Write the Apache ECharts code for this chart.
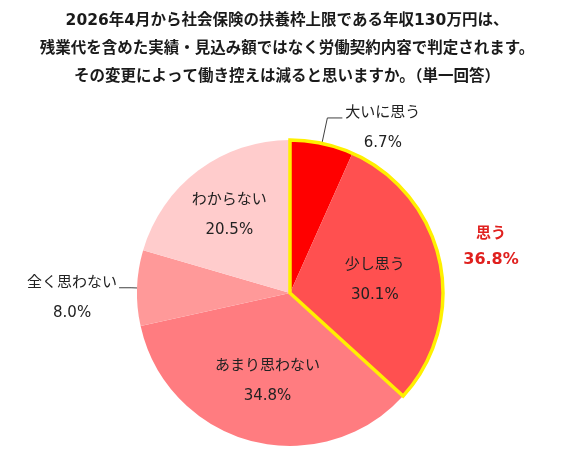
<!DOCTYPE html>
<html>
<head>
<meta charset="utf-8">
<script src="https://cdn.jsdelivr.net/npm/echarts@6/dist/echarts.min.js"></script>
<style>
  html, body { margin: 0; padding: 0; background: #fff; }
  #chart { width: 574px; height: 451px; }
</style>
</head>
<body>
<div id="chart"></div>
<script>
const titleLines = [
  '2026年4月から社会保険の扶養枠上限である年収130万円は、',
  '残業代を含めた実績・見込み額ではなく労働契約内容で判定されます。',
  'その変更によって働き控えは減ると思いますか。（単一回答）'
];
const categories = ['大いに思う', '少し思う', 'あまり思わない', '全く思わない', 'わからない'];
const values = [6.7, 30.1, 34.8, 8.0, 20.5];
const groupName = '思う';
const groupMembers = ['大いに思う', '少し思う'];
const outsideLabels = ['大いに思う', '全く思わない'];

const FONT = "'DejaVu Sans', 'Noto Sans CJK JP', sans-serif";
const colors = ['#FF0000', '#FF5050', '#FF7C80', '#FF9999', '#FFCCCC'];

// small nudges for the inside labels (Excel puts them a bit off the mid radius)
const labelNudge = {
  '少し思う': [7, 3],
  'あまり思わない': [-2, 11],
  'わからない': [-13, -14]
};

const groupTotal = categories.reduce((s, c, i) => groupMembers.includes(c) ? s + values[i] : s, 0);
const restTotal = values.reduce((s, v) => s + v, 0) - groupTotal;

const pieData = categories.map((name, i) => {
  const item = { name: name, value: values[i], itemStyle: { color: colors[i] } };
  if (outsideLabels.includes(name)) {
    item.label = { position: 'outside', padding: [20, 0, 0, 0], distanceToLabelLine: name === '大いに思う' ? 3 : 2 };
    item.labelLine = name === '大いに思う' ? { show: true, length: 26, length2: 15 } : { show: true, length: 6, length2: 12 };
  } else {
    item.label = { position: 'inside' };
    item.labelLine = { show: false };
  }
  return item;
});

const chart = echarts.init(document.getElementById('chart'));
chart.setOption({
  backgroundColor: '#ffffff',
  animation: false,
  title: [
    {
      text: titleLines.join('\n'),
      left: 'center',
      top: 2,
      textStyle: { fontFamily: FONT, fontSize: 15.5, fontWeight: 'bold', color: '#1a1a1a', lineHeight: 28 }
    },
    {
      text: '{a|' + groupName + '}\n{b|' + groupTotal.toFixed(1) + '%}',
      left: 486,
      top: 216,
      textAlign: 'center',
      textStyle: {
        rich: {
          a: { fontFamily: FONT, fontSize: 15, fontWeight: 'bold', color: '#E0201E', lineHeight: 26, align: 'center' },
          b: { fontFamily: FONT, fontSize: 16, fontWeight: 'bold', color: '#E0201E', lineHeight: 26, align: 'center' }
        }
      }
    }
  ],
  series: [
    {
      type: 'pie',
      center: [290, 293],
      radius: [0, 153],
      startAngle: 90,
      clockwise: true,
      avoidLabelOverlap: false,
      silent: true,
      itemStyle: { borderWidth: 0 },
      label: {
        show: true,
        formatter: p => '{n|' + p.name + '}\n{p|' + p.value.toFixed(1) + '%}',
        rich: {
          n: { fontFamily: FONT, fontSize: 15, color: '#222', lineHeight: 30, align: 'center' },
          p: { fontFamily: FONT, fontSize: 15, color: '#222', lineHeight: 30, align: 'center' }
        }
      },
      labelLine: { lineStyle: { color: '#404040', width: 1 }, smooth: false },
      labelLayout: params => {
        const d = labelNudge[categories[params.dataIndex]];
        return d ? { dx: d[0], dy: d[1] } : {};
      },
      data: pieData
    },
    {
      type: 'pie',
      center: [290, 293],
      radius: [0, 153],
      startAngle: 90,
      clockwise: true,
      silent: true,
      z: 3,
      label: { show: false },
      labelLine: { show: false },
      data: [
        { name: groupName, value: groupTotal, itemStyle: { color: 'rgba(0,0,0,0)', borderColor: '#FFF000', borderWidth: 3.5, borderJoin: 'miter' } },
        { name: 'rest', value: restTotal, itemStyle: { color: 'rgba(0,0,0,0)', borderWidth: 0 } }
      ]
    }
  ]
});
</script>
</body>
</html>
